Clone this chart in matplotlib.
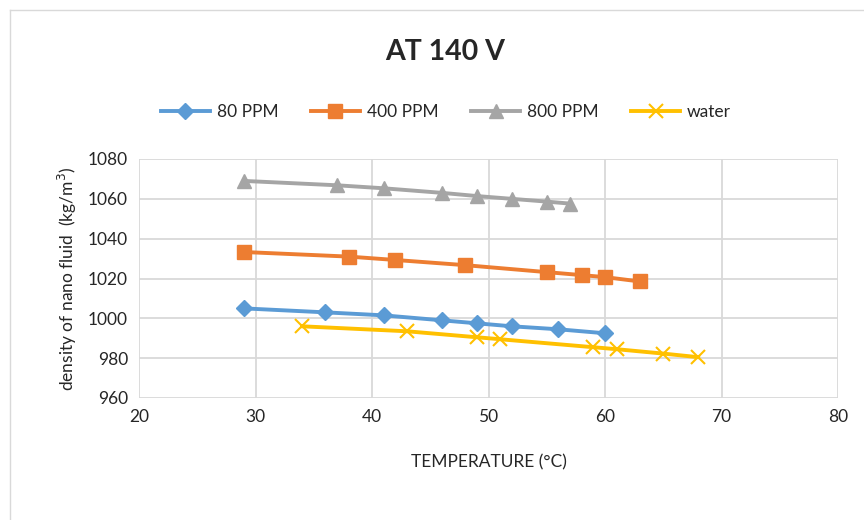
import matplotlib
matplotlib.use("Agg")
import matplotlib.pyplot as plt
from matplotlib.lines import Line2D

plt.rcParams['font.family'] = ['Lato', 'DejaVu Sans']

x80 = [29, 36, 41, 46, 49, 52, 56, 60]
y80 = [1005, 1003, 1001.5, 999, 997.5, 996, 994.5, 992.5]
x400 = [29, 38, 42, 48, 55, 58, 60, 63]
y400 = [1033.3, 1031, 1029.3, 1026.7, 1023.2, 1021.7, 1020.7, 1018.5]
x800 = [29, 37, 41, 46, 49, 52, 55, 57]
y800 = [1069, 1066.8, 1065.3, 1063, 1061.4, 1060, 1058.6, 1057.6]
xw = [34, 43, 49, 51, 59, 61, 65, 68]
yw = [996, 993.5, 990.5, 989.5, 985.5, 984.5, 982.3, 980.5]

xticks = [20, 30, 40, 50, 60, 70, 80]
yticks = [960, 980, 1000, 1020, 1040, 1060, 1080]

fig = plt.figure(figsize=(8.64, 5.2), dpi=100)
ax = fig.add_axes([139/864, 1-398/520, (838-139)/864, (398-159)/520])

grid_c = '#D9D9D9'
ax.plot(x80, y80, color='#5B9BD5', lw=2.8, marker='D', ms=8.5, label='80 PPM', zorder=3)
ax.plot(x400, y400, color='#ED7D31', lw=2.8, marker='s', ms=10, label='400 PPM', zorder=3)
ax.plot(x800, y800, color='#A5A5A5', lw=2.8, marker='^', ms=10, label='800 PPM', zorder=3)
ax.plot(xw, yw, color='#FFC000', lw=2.8, marker='x', ms=10, mew=1.5, label='water', zorder=3)

ax.set_xlim(20, 80)
ax.set_ylim(960, 1080)
ax.set_xticks(xticks)
ax.set_yticks(yticks)
ax.grid(True, color=grid_c, lw=1.3)
ax.set_axisbelow(True)
for s in ax.spines.values():
    s.set_visible(False)
ax.tick_params(length=0, labelsize=12.5, colors='#404040', pad=8)
for lab in ax.get_xticklabels() + ax.get_yticklabels():
    lab.set_color('#262626')

ax.set_xlabel('TEMPERATURE (°C)', fontsize=12.5, color='#262626', labelpad=21)
ax.set_ylabel('density of nano fluid  (kg/m$^3$)', fontsize=12.5, color='#262626', labelpad=6)

fig.text(445/864, 1-52/520, 'AT 140 V', ha='center', va='center', fontsize=20.5, fontweight='bold', color='#262626')

handles, labels = ax.get_legend_handles_labels()
fig.legend(handles, labels, loc='center', bbox_to_anchor=(446/864, 1-112/520), ncol=4,
           frameon=False, fontsize=12.5, handlelength=2.8, columnspacing=1.9, handletextpad=0.4,
           labelcolor='#262626')

# chart frame
fig.add_artist(Line2D([10/864, 10/864], [0, 1-10/520], color='#D9D9D9', lw=1, transform=fig.transFigure))
fig.add_artist(Line2D([10/864, 1], [1-10/520, 1-10/520], color='#D9D9D9', lw=1, transform=fig.transFigure))

fig.savefig('out.png', dpi=100)
